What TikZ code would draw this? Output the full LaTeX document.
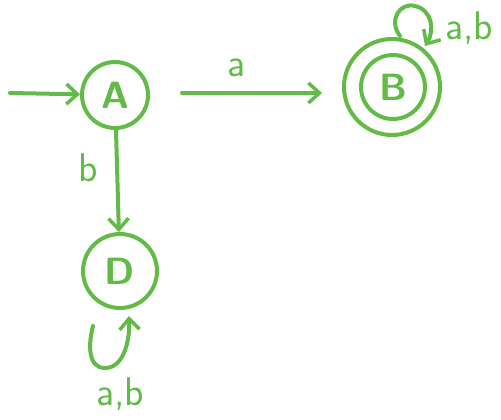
\documentclass[tikz,border=0pt]{standalone}
\usetikzlibrary{arrows.meta}
\definecolor{pen}{RGB}{98,187,70}
\begin{document}
\begin{tikzpicture}[x=1pt,y=-1pt,
  every path/.style={line width=4pt,line cap=round,line join=round},
  state/.style={draw=pen,circle,minimum size=#1,inner sep=0pt,text=pen,font=\fontsize{38}{40}\sffamily\bfseries},
  conn/.style={draw=pen,-{Straight Barb[length=11pt,width=20pt,line width=3.5pt]}},
  lbl/.style={text=pen,font=\fontsize{40}{42}\sffamily}]
\useasboundingbox (0,0) rectangle (501,420);
\node[state=66pt] (A) at (115,95) {A};
\node[state=96pt] (B) at (392,87) {};
\node[state=64pt] (Bi) at (393,87) {B};
\node[state=74pt] (D) at (120,271) {D};
\coordinate (s) at (10,93);
\draw[conn] (s) -- (A);
\coordinate (a1) at (182,93);
\coordinate (a2) at (322,93);
\draw[conn] (a1) -- (a2);
\node[lbl] (la) at (237,68) {a};
\draw[conn] (A) -- (D);
\node[lbl] (lb) at (88,168) {b};
\coordinate (bl1) at (400,36);
\coordinate (bl2) at (425,46);
\draw[conn] (bl1) .. controls (388,20) and (400,2) .. (415,6) .. controls (432,10) and (435,30) .. (bl2);
\node[lbl] (lab1) at (469,28) {a,b};
\coordinate (dl1) at (93,326);
\coordinate (dl2) at (129,316);
\draw[conn] (dl1) .. controls (88,345) and (88,368) .. (105,368) .. controls (124,368) and (130,340) .. (dl2);
\node[lbl] (lab2) at (120,394) {a,b};
\end{tikzpicture}
\end{document}
